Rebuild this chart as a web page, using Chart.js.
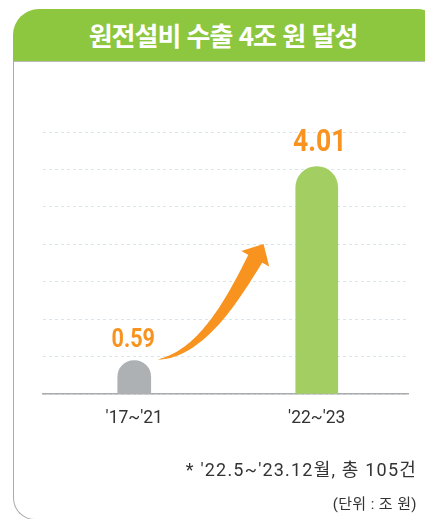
<!DOCTYPE html>
<html lang="ko">
<head>
<meta charset="utf-8">
<script src="https://cdn.jsdelivr.net/npm/chart.js@4.4.1/dist/chart.umd.min.js"></script>
<style>
  html, body { margin: 0; padding: 0; background: #fff; }
  #page { position: relative; width: 425px; height: 519px; overflow: hidden; font-family: Roboto, 'Noto Sans CJK KR', sans-serif; }
  #header {
    position: absolute; left: 13px; top: 9px; width: 430px; height: 52px;
    background: #8dc63f; border-radius: 26px 26px 0 0;
    color: #fff; font-family: 'Noto Sans CJK KR', sans-serif; font-weight: 700;
    font-size: 26px; letter-spacing: -1px; line-height: 52px;
    text-align: center; box-sizing: border-box; padding-right: 10px;
  }
  #box {
    position: absolute; left: 13px; top: 61px; width: 440px; height: 459px;
    border-left: 1.5px solid #aaa; border-top: 1px solid #bbb; border-bottom: 1.5px solid #aaa;
    border-bottom-left-radius: 22px; box-sizing: border-box;
  }
  #chartWrap { position: absolute; left: 0; top: 0; width: 425px; height: 519px; }
  .note { position: absolute; right: 8px; color: #333; white-space: nowrap; }
  #note1 { top: 455px; font-size: 18px; letter-spacing: 1.2px; }
  #note2 { top: 492px; font-size: 15px; letter-spacing: 0.4px; }
</style>
</head>
<body>
<div id="page">
  <div id="box"></div>
  <div id="header">원전설비 수출 4조 원 달성</div>
  <div id="chartWrap"><canvas id="grafico"></canvas></div>
  <div class="note" id="note1">* '22.5~'23.12월, 총 105건</div>
  <div class="note" id="note2">(단위 : 조 원)</div>
</div>
<script>
// datos (조 원)
const periodos = ["'17~'21", "'22~'23"];
const valores = [0.59, 4.01];
const etiquetas = ['0.59', '4.01'];

const colores = ['#adb1b4', '#a3cf62'];
const anchos = [33, 42];
const tamLetra = [26, 32];
const separacion = [14, 16];
const naranja = '#f7931e';

// una serie por barra para poder dar distinto ancho a cada una
const series = valores.map((v, i) => ({
  label: periodos[i],
  data: valores.map((x, j) => (j === i ? x : null)),
  backgroundColor: colores[i],
  barThickness: anchos[i],
  borderRadius: { topLeft: anchos[i] / 2, topRight: anchos[i] / 2, bottomLeft: 0, bottomRight: 0 },
  borderSkipped: 'bottom'
}));

const etiquetasPlugin = {
  id: 'etiquetas',
  afterDatasetsDraw(chart) {
    const ctx = chart.ctx;
    valores.forEach((v, i) => {
      const bar = chart.getDatasetMeta(i).data[i];
      ctx.save();
      ctx.translate(bar.x + (i === 1 ? 3 : -1), bar.y - separacion[i]);
      ctx.scale(0.83, 1);
      ctx.fillStyle = naranja;
      ctx.font = `700 ${tamLetra[i]}px Roboto`;
      ctx.textAlign = 'center';
      ctx.textBaseline = 'alphabetic';
      ctx.fillText(etiquetas[i], 0, 0);
      ctx.restore();
    });
  }
};

function puntoBezier(p0, p1, p2, p3, t) {
  const u = 1 - t;
  return {
    x: u*u*u*p0.x + 3*u*u*t*p1.x + 3*u*t*t*p2.x + t*t*t*p3.x,
    y: u*u*u*p0.y + 3*u*u*t*p1.y + 3*u*t*t*p2.y + t*t*t*p3.y
  };
}

// flecha curva entre las dos barras
const flechaPlugin = {
  id: 'flecha',
  afterDatasetsDraw(chart) {
    const ctx = chart.ctx;
    const yScale = chart.scales.y;
    const b0 = chart.getDatasetMeta(0).data[0];
    const b1 = chart.getDatasetMeta(1).data[1];
    const p0 = { x: b0.x + b0.width / 2 + 7, y: b0.y - 1 };
    const p3 = { x: b1.x - b1.width / 2 - 40, y: yScale.getPixelForValue(2.4) };
    const dir = { x: 0.49, y: -0.87 };
    const p1 = { x: p0.x + 45, y: p0.y - 6 };
    const p2 = { x: p3.x - dir.x * 45, y: p3.y - dir.y * 45 };

    const n = 40, izq = [], der = [];
    for (let k = 0; k <= n; k++) {
      const t = k / n;
      const p = puntoBezier(p0, p1, p2, p3, t);
      const q = puntoBezier(p0, p1, p2, p3, Math.min(1, t + 0.01));
      const r = puntoBezier(p0, p1, p2, p3, Math.max(0, t - 0.01));
      let dx = q.x - r.x, dy = q.y - r.y;
      const len = Math.hypot(dx, dy) || 1;
      dx /= len; dy /= len;
      const w = 8 * Math.pow(t, 0.75);
      izq.push({ x: p.x + dy * w, y: p.y - dx * w });
      der.push({ x: p.x - dy * w, y: p.y + dx * w });
    }
    ctx.save();
    ctx.fillStyle = naranja;
    ctx.beginPath();
    ctx.moveTo(izq[0].x, izq[0].y);
    izq.forEach(p => ctx.lineTo(p.x, p.y));
    for (let k = der.length - 1; k >= 0; k--) ctx.lineTo(der[k].x, der[k].y);
    ctx.closePath();
    ctx.fill();

    // punta
    const nx = -dir.y, ny = dir.x;
    ctx.beginPath();
    ctx.moveTo(p3.x + dir.x * 16, p3.y + dir.y * 16);
    ctx.lineTo(p3.x - nx * 16 - dir.x * 1, p3.y - ny * 16 - dir.y * 1);
    ctx.lineTo(p3.x + nx * 16 - dir.x * 1, p3.y + ny * 16 - dir.y * 1);
    ctx.closePath();
    ctx.fill();
    ctx.restore();
  }
};

const ctx = document.getElementById('grafico').getContext('2d');
const grafico = new Chart(ctx, {
  type: 'bar',
  data: { labels: periodos, datasets: series },
  options: {
    responsive: true,
    maintainAspectRatio: false,
    animation: false,
    layout: { padding: { left: 43, right: 17, top: 132, bottom: 85 } },
    datasets: { bar: { grouped: false } },
    plugins: { legend: { display: false }, tooltip: { enabled: false } },
    scales: {
      x: {
        offset: true,
        grid: { display: false, drawTicks: false },
        border: { display: true, color: '#a9acae', width: 1.5 },
        ticks: { color: '#333', padding: 14, font: { family: 'Roboto', size: 17.5 } },
        afterFit(s) { s.height = 40; }
      },
      y: {
        min: 0,
        max: 4.62,
        ticks: { display: false, stepSize: 0.66 },
        border: { display: false, dash: [3, 3] },
        grid: { color: '#d9e6ec', drawTicks: false, lineWidth: 1 },
        afterFit(s) { s.width = 0; }
      }
    }
  },
  plugins: [flechaPlugin, etiquetasPlugin]
});
</script>
</body>
</html>
